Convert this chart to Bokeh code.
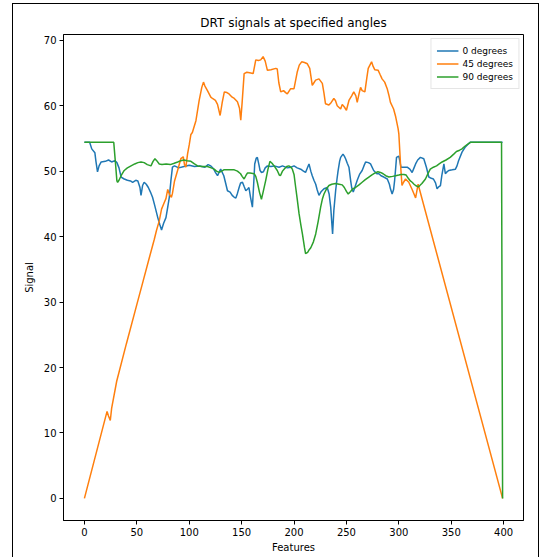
from bokeh.plotting import figure
from bokeh.models import Range1d, FixedTicker, Legend
from bokeh.embed import file_html
from bokeh.resources import INLINE

# ---------------- data ----------------
x_deg0 = [0, 5, 7, 10, 11, 12.5, 14, 16, 20, 23, 26, 29, 31, 33, 35, 38, 41, 44, 46, 49, 51, 53, 54,
          55.5, 57, 59, 61, 63, 65, 67, 70, 72, 73.6, 75.5, 77.8, 79.5, 81, 82.5, 84, 86, 90, 95, 100,
          105, 110, 115, 118, 120.6, 123, 125, 127, 129, 130, 133, 135, 136.5, 139, 141, 143, 144.5,
          146, 147.6, 149, 150.8, 152.5, 154, 156, 157, 158.5, 160.3, 161.5, 162.5, 164, 165, 166.5,
          167.6, 169, 170.8, 172.5, 174.6, 178, 181, 185.7, 189, 193.6, 197, 200, 203, 206.4, 209,
          211, 213, 214.3, 216, 217.4, 219, 220.7, 222, 223.8, 226, 228.6, 231.7, 233.5, 235, 236.8,
          238, 239.7, 241, 242, 243.5, 244.5, 246.7, 248, 249.2, 250.8, 252.4, 254, 255, 256.5, 258,
          260.3, 262.5, 265, 266.7, 268.3, 271, 273, 276, 279, 281, 283, 285.7, 289, 291, 292, 293.6,
          295, 296, 297, 297.8, 300, 301, 302, 305, 308, 310.5, 312.7, 314.5, 316, 318, 320.6, 323.8,
          326.3, 328.6, 331, 333, 335, 336.5, 338, 339.7, 341, 343, 344.4, 346, 347.6, 351, 354,
          355.5, 357, 360.3, 363.5, 366, 368, 399]
y_deg0 = [54.4, 54.4, 53.4, 52.8, 51.5, 49.9, 50.8, 51.4, 51.5, 51.7, 51.4, 51.6, 51.3, 50.5, 49.1,
          48.8, 48.6, 48.5, 48.3, 48.6, 48.5, 47.5, 46.3, 47.8, 48.3, 48.0, 47.5, 46.8, 46.0, 44.8,
          42.9, 41.8, 41.0, 42.0, 42.9, 44.5, 46.0, 48.5, 50.6, 50.8, 50.5, 50.7, 50.9, 50.7, 50.8,
          50.6, 51.0, 50.8, 50.4, 49.8, 49.3, 50.0, 50.3, 49.3, 48.0, 47.0, 46.8, 46.3, 46.0, 45.9,
          46.6, 47.5, 48.2, 48.3, 47.6, 47.0, 47.3, 47.5, 46.0, 44.5, 48.0, 51.1, 52.0, 52.1, 51.0,
          50.1, 49.8, 49.9, 50.5, 50.8, 50.7, 50.8, 50.6, 50.8, 50.5, 50.6, 50.8, 50.5, 50.3, 50.0,
          49.8, 50.6, 51.1, 50.0, 49.3, 48.6, 48.0, 47.2, 46.3, 46.9, 47.3, 47.5, 46.5, 44.5, 40.4,
          44.0, 47.0, 48.8, 50.0, 51.5, 52.1, 52.6, 52.3, 51.9, 51.2, 50.6, 48.6, 47.5, 46.8, 47.5,
          48.6, 49.5, 50.1, 50.8, 51.4, 51.3, 51.1, 50.1, 49.6, 49.6, 49.3, 49.1, 48.8, 48.0, 47.3,
          46.5, 47.2, 48.6, 50.5, 52.1, 52.3, 51.5, 50.6, 50.6, 50.6, 50.3, 49.8, 50.5, 51.1, 51.7,
          52.1, 51.9, 50.6, 49.1, 48.9, 48.8, 48.2, 47.3, 47.6, 47.8, 49.3, 51.1, 49.6, 49.9, 50.1,
          50.2, 50.3, 50.8, 51.6, 52.9, 53.7, 54.1, 54.4, 54.4]

x_deg45 = [0, 21.6, 23, 24.7, 26, 30.8, 40, 50, 56, 62, 66.7, 68.7, 71.4, 73.6, 76.2, 77.8, 79.5, 81,
           83, 84, 86, 88.9, 92, 94.3, 95.5, 96.8, 98.4, 100, 101.6, 103, 106.4, 109.5, 112, 113.6,
           115, 117.4, 120.6, 122.2, 125, 127, 129.5, 131.5, 133.5, 136, 138, 141, 143, 146, 148,
           149.2, 150.5, 152.4, 155, 158.8, 161, 163.5, 166, 168.2, 170.5, 172.5, 174.6, 178, 182.6,
           184, 185.5, 187.3, 190, 192, 193.6, 196.8, 200, 203, 205, 207.3, 210, 212.7, 215, 217.4,
           219, 220.6, 223.8, 227, 228.5, 230, 233.3, 235.5, 238, 239.5, 241.2, 244.5, 246, 248, 250,
           252.4, 255, 257, 259, 260.3, 262, 263.5, 265, 267.6, 269.5, 270.8, 274, 275.5, 277, 280.3,
           282, 284, 286.5, 288.9, 290.5, 292, 295, 297, 299.3, 300, 301.6, 303, 304.5, 306.4, 309.5,
           312.7, 314.5, 316, 318.4, 399]
y_deg45 = [0, 13.3, 12.6, 11.9, 13.8, 17.9, 23.6, 29.6, 33.2, 36.8, 39.6, 40.9, 42.4, 44.2, 45.2,
           45.8, 47.2, 46.5, 46.0, 46.6, 48.5, 50.1, 51.9, 52.2, 51.0, 50.6, 52.6, 54.0, 55.6, 55.9,
           57.7, 60.8, 62.8, 63.6, 63.0, 62.3, 61.3, 61.1, 60.8, 60.2, 58.5, 60.5, 62.1, 62.0, 61.8,
           61.3, 61.1, 60.6, 59.6, 57.8, 60.5, 64.9, 65.1, 65.0, 64.9, 67.0, 66.9, 67.0, 67.5, 66.8,
           65.4, 65.5, 65.7, 65.6, 63.5, 62.1, 62.3, 62.0, 61.8, 62.6, 62.6, 65.1, 66.2, 66.7, 66.6,
           66.4, 65.7, 63.1, 63.5, 63.9, 64.1, 63.4, 62.0, 60.3, 60.1, 60.5, 61.1, 60.8, 60.0, 59.5,
           60.2, 59.8, 59.3, 60.8, 61.5, 62.1, 61.5, 60.5, 61.8, 62.8, 62.3, 62.1, 64.3, 65.7, 66.7,
           66.0, 65.5, 65.4, 64.8, 64.1, 63.6, 62.6, 61.6, 60.5, 59.5, 58.3, 56.5, 55.7, 51.1, 47.8,
           48.3, 48.8, 48.3, 47.2, 46.5, 45.9, 48.0, 0]

x_deg90 = [0, 28, 29.5, 31, 31.7, 33, 35, 38, 41, 44.5, 48, 51, 54, 57, 60, 63.5, 65.5, 67.3, 69,
           71.4, 74, 78, 82, 85.7, 89, 92, 95, 98, 101.6, 105, 108, 112, 117.4, 121, 123.8, 126,
           128.6, 131, 133, 138, 143, 146, 149, 150.5, 152.4, 154, 155.5, 158, 162, 163.5, 165, 167,
           168.9, 170.5, 173, 175, 177, 179, 181, 184, 186, 187, 189, 190.5, 193, 195, 197, 198.4,
           200, 201.6, 203, 204.8, 206.5, 208, 210, 211, 213, 214.5, 216, 218.5, 220.7, 223, 225.4,
           227, 228.6, 231, 233.3, 236, 239.7, 243, 246, 248, 250, 251.7, 254, 256, 258.7, 262, 265,
           268, 271.4, 274, 277, 280, 282.5, 285, 287.5, 290.5, 294, 297, 300, 302, 304.8, 307, 309,
           311, 312.7, 314.5, 316, 318.4, 320, 322, 325.4, 328, 330, 333, 336, 338.5, 341.3, 345, 349,
           352.4, 355, 358, 360.3, 363, 365.5, 368.3, 398, 399]
y_deg90 = [54.4, 54.4, 51.5, 48.5, 48.3, 48.6, 49.3, 50.1, 50.5, 50.8, 51.1, 51.3, 51.4, 51.3, 51.0,
           50.8, 51.5, 51.9, 51.6, 51.1, 51.0, 51.1, 51.0, 51.2, 51.4, 51.6, 51.7, 51.6, 51.5, 51.1,
           50.8, 50.7, 50.7, 50.5, 50.3, 50.0, 49.8, 50.0, 50.2, 50.2, 50.2, 50.0, 49.6, 49.2, 48.8,
           49.3, 49.7, 49.7, 49.6, 49.2, 48.3, 46.8, 45.7, 46.8, 48.6, 50.2, 51.5, 51.2, 50.8, 50.1,
           49.4, 49.3, 50.0, 50.3, 50.7, 50.8, 50.6, 50.3, 49.5, 47.5, 45.8, 43.5, 41.8, 40.4, 38.3,
           37.4, 37.6, 38.0, 38.3, 39.2, 40.4, 42.3, 44.5, 45.7, 46.5, 47.3, 47.8, 48.0, 48.1, 48.0,
           47.9, 47.5, 46.9, 46.5, 46.9, 47.3, 47.5, 47.9, 48.3, 48.7, 49.1, 49.4, 49.7, 49.9, 49.8,
           49.6, 49.3, 49.1, 49.2, 49.3, 49.4, 49.5, 49.5, 49.4, 48.9, 48.5, 48.3, 48.0, 47.8, 47.6,
           47.8, 48.1, 48.8, 49.7, 50.3, 50.6, 50.8, 51.1, 51.4, 51.7, 52.1, 52.6, 53.0, 53.2, 53.4,
           53.8, 54.1, 54.4, 54.4, 0]

series_labels = ["0 degrees", "45 degrees", "90 degrees"]
x_ticks = [0, 50, 100, 150, 200, 250, 300, 350, 400]
y_ticks = [0, 10, 20, 30, 40, 50, 60, 70]

# ---------------- figure ----------------
FONT = "DejaVu Sans"
p = figure(width=527, height=554, output_backend="svg", toolbar_location=None,
           x_range=Range1d(-19.95, 418.95), y_range=Range1d(-3.375, 70.875),
           min_border_left=50, min_border_right=17, min_border_top=30, min_border_bottom=38,
           title="DRT signals at specified angles")
# outer border of the original picture (left, top and right edges only)
p.styles = {"margin-left": "12px", "margin-top": "3px",
            "border-left": "1px solid #000", "border-top": "1px solid #000",
            "border-right": "1px solid #000"}

p.title.align = "center"
p.title.text_font = FONT
p.title.text_font_size = "12px"
p.title.text_font_style = "normal"
p.title.text_color = "#000000"

p.xgrid.visible = False
p.ygrid.visible = False
p.outline_line_color = "#000000"
p.outline_line_width = 1
p.background_fill_color = "white"
p.border_fill_color = "white"

for ax, ticks in ((p.xaxis[0], x_ticks), (p.yaxis[0], y_ticks)):
    ax.ticker = FixedTicker(ticks=ticks)
    ax.major_tick_in = 0
    ax.major_tick_out = 4
    ax.minor_tick_line_color = None
    ax.axis_line_color = "#000000"
    ax.major_tick_line_color = "#000000"
    ax.major_label_text_font = FONT
    ax.major_label_text_font_size = "10px"
    ax.major_label_text_color = "#000000"
    ax.axis_label_text_font = FONT
    ax.axis_label_text_font_size = "10px"
    ax.axis_label_text_font_style = "normal"
    ax.axis_label_text_color = "#000000"
p.xaxis.axis_label = "Features"
p.yaxis.axis_label = "Signal"
p.xaxis.major_label_standoff = 3
p.yaxis.major_label_standoff = 3
p.xaxis.axis_label_standoff = 3
p.yaxis.axis_label_standoff = 6

colors = ["#1f77b4", "#ff7f0e", "#2ca02c"]
data = [(x_deg0, y_deg0), (x_deg45, y_deg45), (x_deg90, y_deg90)]
items = []
for (xs, ys), c, lab in zip(data, colors, series_labels):
    r = p.line(xs, ys, line_color=c, line_width=1.5)
    items.append((lab, [r]))

legend = Legend(items=items, location="top_right")
legend.label_text_font = FONT
legend.label_text_font_size = "9px"
legend.label_text_color = "#000000"
legend.glyph_width = 22
legend.glyph_height = 13
legend.label_height = 13
legend.label_standoff = 4
legend.spacing = 0
legend.padding = 5
legend.margin = 4
legend.border_line_color = "#cccccc"
legend.border_line_width = 1
legend.background_fill_alpha = 0.8
p.add_layout(legend)

open("out.html", "w").write(file_html(p, INLINE))
